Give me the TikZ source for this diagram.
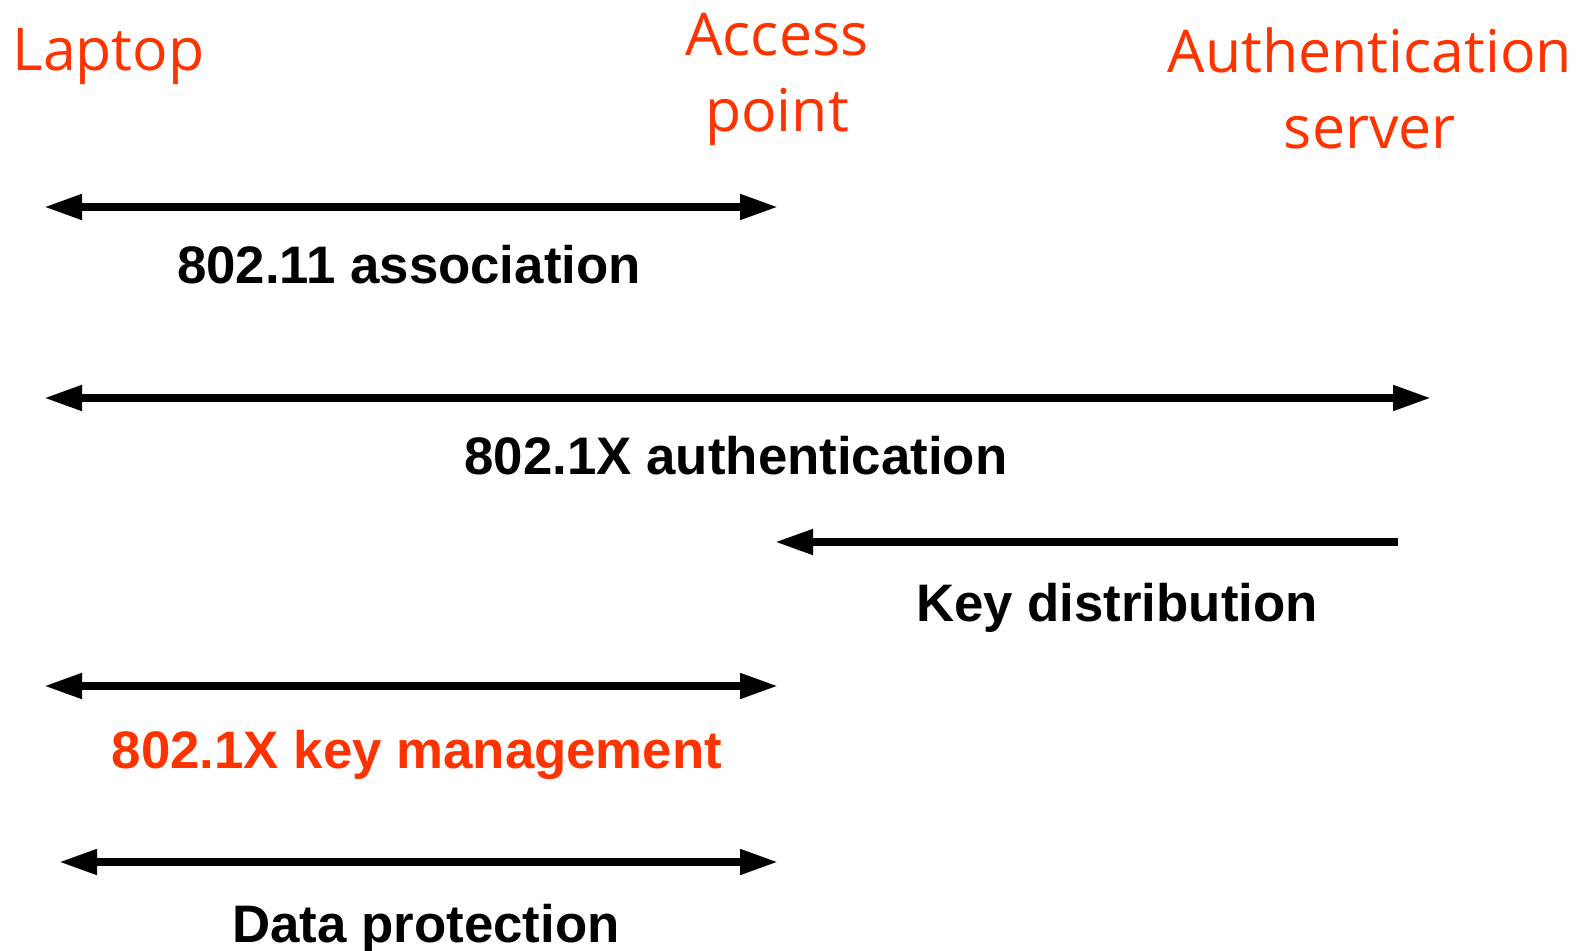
\documentclass[tikz,border=0pt]{standalone}
\usepackage{fontspec}
\setmainfont{Liberation Sans}
\newfontfamily\partyfont{Open Sans}
\usetikzlibrary{arrows.meta}
\definecolor{keyorange}{HTML}{FF3300}

\begin{document}
\begin{tikzpicture}[x=0.5pt,y=-0.5pt,
  party/.style={font=\partyfont\fontsize{29.5}{38}\selectfont, text=keyorange, anchor=base, inner sep=0pt},
  msg/.style={font=\bfseries\fontsize{26.4}{30}\selectfont, anchor=base, inner sep=0pt},
  oneway/.style={line width=3.8pt, -{Triangle[length=19pt,width=12pt]}},
  twoway/.style={line width=3.8pt, {Triangle[length=19pt,width=12pt]}-{Triangle[length=19pt,width=12pt]}}]
\useasboundingbox (0,0) rectangle (1589,951);
% the three parties
\node[party, anchor=base west] (laptop) at (12,71) {Laptop};
\node[party] (ap1) at (777,56) {Access};
\node[party] (ap2) at (777,132) {point};
\node[party] (as1) at (1370,73) {Authentication};
\node[party] (as2) at (1370,149) {server};
% ends of the arrows
\coordinate (l1) at (44,207);   \coordinate (r1) at (778,207);
\coordinate (l2) at (44,398);   \coordinate (r2) at (1431,398);
\coordinate (l3) at (775,542);  \coordinate (r3) at (1398,542);
\coordinate (l4) at (44,686);   \coordinate (r4) at (778,686);
\coordinate (l5) at (59,862);   \coordinate (r5) at (778,862);
% exchanges
\draw[twoway] (l1) -- (r1);
\node[msg] (assoc) at (409,284) {802.11 association};
\draw[twoway] (l2) -- (r2);
\node[msg] (auth) at (736,475) {802.1X authentication};
\draw[oneway] (r3) -- (l3);
\node[msg] (keydist) at (1117,621) {Key distribution};
\draw[twoway] (l4) -- (r4);
\node[msg, text=keyorange] (keymgmt) at (417,768) {802.1X key management};
\draw[twoway] (l5) -- (r5);
\node[msg] (dataprot) at (426,942) {Data protection};
\end{tikzpicture}
\end{document}
